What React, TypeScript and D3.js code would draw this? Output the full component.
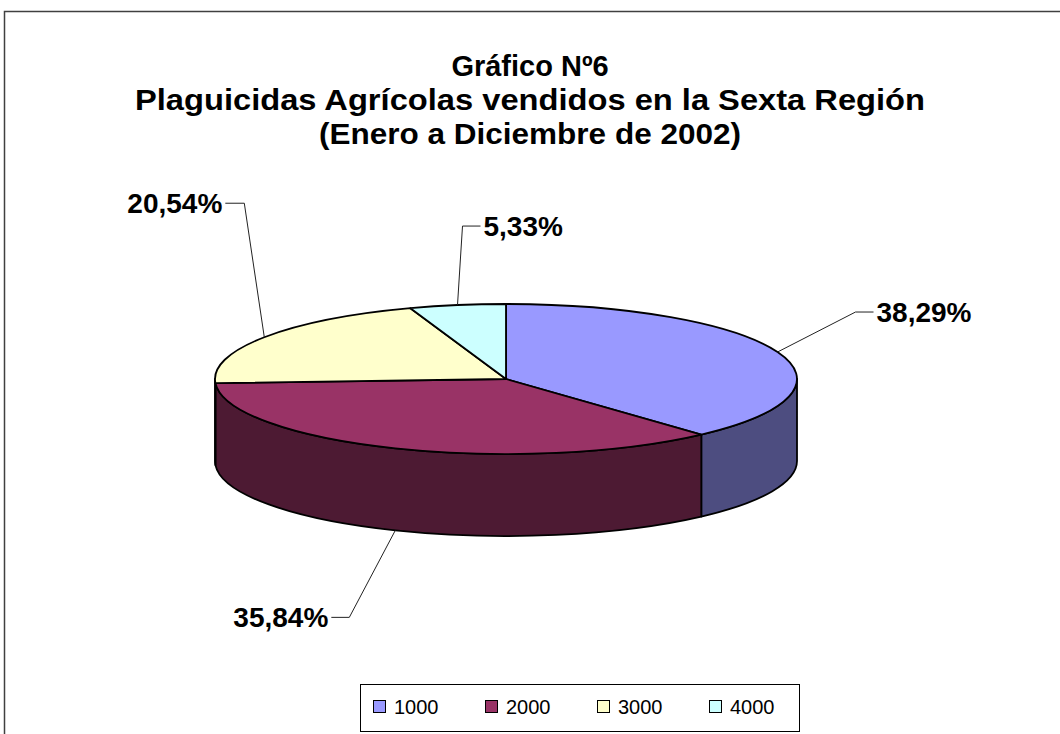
import React, { useEffect, useRef } from "react";
import * as d3 from "d3";

const categories = ["1000", "2000", "3000", "4000"];
const shares = [38.29, 35.84, 20.54, 5.33];
const percentLabels = ["38,29%", "35,84%", "20,54%", "5,33%"];
const titleLines = [
  "Gráfico Nº6",
  "Plaguicidas Agrícolas vendidos en la Sexta Región",
  "(Enero a Diciembre de 2002)",
];

const topColors = ["#9999FF", "#993366", "#FFFFCC", "#CCFFFF"];
const sideColors = ["#4D4D80", "#4D1A33", "#80806A", "#6A8080"];

const App = () => {
  const svgRef = useRef<SVGSVGElement>(null);

  useEffect(() => {
    const width = 1060;
    const height = 734;
    const cx = 506, cy = 379, rx = 291, ry = 75, depth = 82;

    const svg = d3.select(svgRef.current)
      .attr("width", width)
      .attr("height", height)
      .style("font-family", "Liberation Sans, Arial, sans-serif");
    svg.selectAll("*").remove();

    svg.append("rect")
      .attr("x", 4.5).attr("y", 11.5)
      .attr("width", width + 20).attr("height", height + 20)
      .attr("fill", "white")
      .attr("stroke", "#404040")
      .attr("stroke-width", 1.5);

    // Excel draws the longer title lines a little wider than the font does
    const titleWidths = [null, 790, 422];
    const title = svg.append("g")
      .attr("text-anchor", "middle")
      .attr("font-weight", "bold")
      .attr("font-size", 29);
    titleLines.forEach((t, i) => {
      const txt = title.append("text")
        .attr("x", 530)
        .attr("y", 76 + i * 34)
        .text(t);
      if (titleWidths[i]) {
        txt.attr("textLength", titleWidths[i])
          .attr("lengthAdjust", "spacingAndGlyphs");
      }
    });

    const pie = d3.pie<number>().sort(null).value(d => d);
    const arcs = pie(shares);

    // point on the ellipse, angle clockwise from 12 o'clock (same as d3.pie)
    const pt = (a: number, dy = 0): [number, number] =>
      [cx + rx * Math.sin(a), cy - ry * Math.cos(a) + dy];

    const ellArc = (a0: number, a1: number, dy = 0) => {
      const [x, y] = pt(a1, dy);
      const large = Math.abs(a1 - a0) > Math.PI ? 1 : 0;
      const sweep = a1 > a0 ? 1 : 0;
      return `A${rx},${ry} 0 ${large} ${sweep} ${x},${y}`;
    };

    // front side walls (visible between 90° and 270°)
    const sides = svg.append("g");
    arcs.forEach((d, i) => {
      const a0 = Math.max(d.startAngle, Math.PI / 2);
      const a1 = Math.min(d.endAngle, (3 * Math.PI) / 2);
      if (a1 <= a0) return;
      const [x0, y0] = pt(a0);
      const [x1b, y1b] = pt(a1, depth);
      const p = `M${x0},${y0} ${ellArc(a0, a1)} L${x1b},${y1b} ${ellArc(a1, a0, depth)} Z`;
      sides.append("path")
        .attr("d", p)
        .attr("fill", sideColors[i])
        .attr("stroke", "#000")
        .attr("stroke-width", 1.8)
        .attr("stroke-linejoin", "round");
    });

    // top faces
    const tops = svg.append("g");
    arcs.forEach((d, i) => {
      const [x0, y0] = pt(d.startAngle);
      const p = `M${cx},${cy} L${x0},${y0} ${ellArc(d.startAngle, d.endAngle)} Z`;
      tops.append("path")
        .attr("d", p)
        .attr("fill", topColors[i])
        .attr("stroke", "#000")
        .attr("stroke-width", 1.8)
        .attr("stroke-linejoin", "round");
    });

    // data labels with leader lines
    const labelLayout = [
      { dx: 78, dy: -40, h: 18, front: false },
      { dx: -46, dy: 87, h: -18, front: true },
      { dx: -20, dy: -134, h: -19, front: false },
      { dx: 5, dy: -79, h: 18, front: false },
    ];
    arcs.forEach((d, i) => {
      const mid = (d.startAngle + d.endAngle) / 2;
      const L = labelLayout[i];
      const [sx, sy] = pt(mid, L.front ? depth : 0);
      const ex = sx + L.dx, ey = sy + L.dy;
      svg.append("path")
        .attr("d", d3.line()([[sx, sy], [ex, ey], [ex + L.h, ey]]))
        .attr("fill", "none")
        .attr("stroke", "#222")
        .attr("stroke-width", 1);
      svg.append("text")
        .attr("x", ex + L.h + (L.h > 0 ? 3 : -3))
        .attr("y", ey)
        .attr("dy", "0.36em")
        .attr("text-anchor", L.h > 0 ? "start" : "end")
        .attr("font-weight", "bold")
        .attr("font-size", 28)
        .text(percentLabels[i]);
    });

    // legend
    const legend = svg.append("g");
    legend.append("rect")
      .attr("x", 360.5).attr("y", 684.5)
      .attr("width", 439).attr("height", 47)
      .attr("fill", "white")
      .attr("stroke", "#000")
      .attr("stroke-width", 1);
    const lx = d3.scalePoint<string>().domain(categories).range([373, 709]);
    categories.forEach((c, i) => {
      const x = lx(c) as number;
      legend.append("rect")
        .attr("x", x + 0.5).attr("y", 700.5)
        .attr("width", 12).attr("height", 12)
        .attr("fill", topColors[i])
        .attr("stroke", "#000")
        .attr("stroke-width", 1);
      legend.append("text")
        .attr("x", x + 21)
        .attr("y", 707)
        .attr("dy", "0.36em")
        .attr("font-size", 20)
        .text(c);
    });
  }, []);

  return <svg ref={svgRef} style={{ position: "absolute", left: 0, top: 0 }} />;
};

export default App;
